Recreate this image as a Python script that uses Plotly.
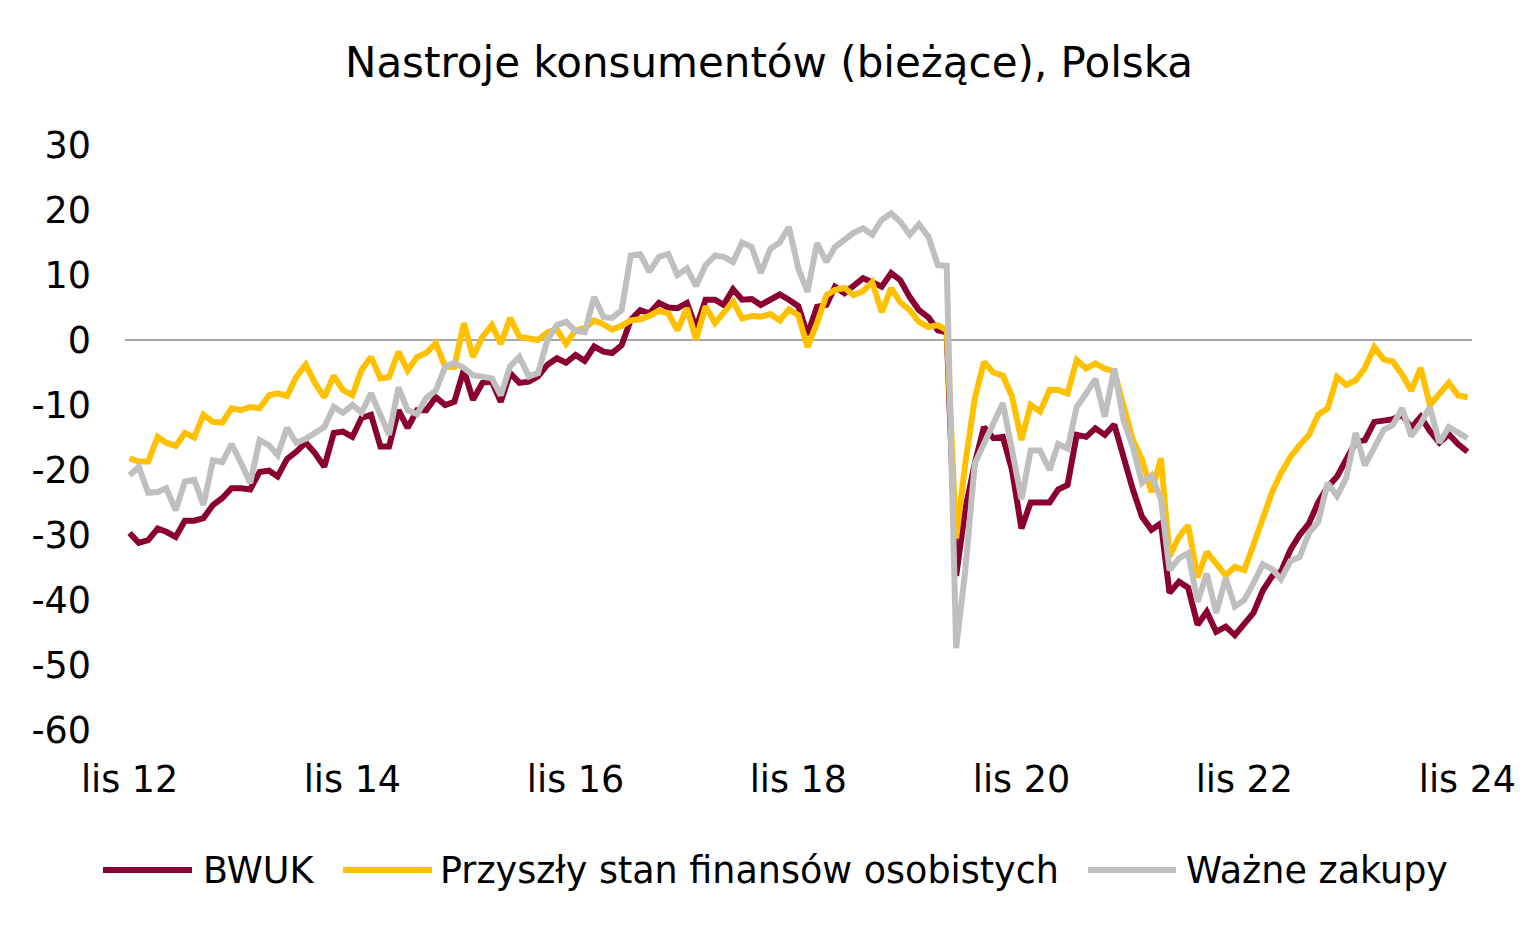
import pandas as pd
import plotly.graph_objects as go

start_month = "2012-11-01"

bwuk = [
    -29.7, -31.2, -30.8, -29.0, -29.5, -30.3, -27.8, -27.8, -27.4, -25.4, -24.3, -22.8,
    -22.8, -23.0, -20.3, -20.1, -21.0, -18.3, -17.2, -15.8, -17.4, -19.5, -14.3, -14.1,
    -14.9, -12.0, -11.5, -16.4, -16.4, -10.8, -13.5, -10.8, -10.8, -8.8, -10.0, -9.5,
    -4.6, -9.2, -6.6, -6.4, -9.5, -5.1, -6.6, -6.4, -5.6, -3.8, -2.8, -3.5,
    -2.3, -3.2, -1.0, -1.8, -2.0, -0.8, 3.1, 4.6, 4.1, 5.7, 5.0, 4.9,
    5.7, 1.8, 6.2, 6.2, 5.4, 7.8, 6.2, 6.3, 5.4, 6.3, 7.0, 6.2,
    5.2, 0.8, 5.1, 5.4, 8.2, 7.2, 8.2, 9.5, 8.9, 8.2, 10.3, 9.2,
    6.6, 4.6, 3.5, 1.5, 1.2, -36.3, -26.0, -19.0, -13.4, -15.1, -14.9, -20.0,
    -29.0, -25.0, -25.0, -25.0, -23.0, -22.3, -14.6, -14.9, -13.6, -14.6, -13.0, -18.0,
    -23.0, -27.2, -29.2, -28.2, -38.9, -37.2, -38.1, -43.8, -41.8, -44.9, -44.1, -45.4,
    -43.8, -42.0, -38.5, -36.3, -35.7, -32.3, -30.0, -28.2, -25.0, -22.6, -21.0, -18.5,
    -15.7, -15.4, -12.6, -12.4, -12.2, -11.5, -13.5, -11.8, -14.0, -15.8, -14.5, -16.0,
    -17.2,
]

przyszly_stan = [
    -18.2, -18.7, -18.7, -14.9, -15.8, -16.3, -14.3, -15.0, -11.5, -12.6, -12.7, -10.5,
    -10.8, -10.3, -10.5, -8.5, -8.2, -8.6, -5.7, -3.8, -6.6, -8.8, -5.5, -7.7,
    -8.5, -4.6, -2.6, -5.9, -5.7, -1.8, -4.7, -2.6, -2.0, -0.5, -4.1, -4.1,
    2.6, -2.6, 0.5, 2.3, -0.6, 3.4, 0.5, 0.2, 0.0, 1.2, 1.6, -0.6,
    1.5, 1.8, 3.0, 2.4, 1.6, 2.2, 3.0, 3.2, 3.7, 4.5, 4.1, 1.5,
    4.9, 0.1, 5.2, 2.6, 4.3, 5.9, 3.3, 3.7, 3.6, 4.0, 3.0, 4.7,
    3.8, -1.1, 2.6, 6.9, 7.7, 8.0, 6.9, 7.5, 8.9, 4.3, 8.0, 5.8,
    4.6, 2.8, 2.0, 2.3, 1.5, -30.5, -19.0, -9.0, -3.4, -5.0, -5.5, -8.7,
    -15.4, -10.0, -11.0, -7.7, -7.7, -8.2, -3.1, -4.4, -3.6, -4.4, -4.8, -9.8,
    -15.4, -18.4, -23.4, -18.2, -33.3, -30.3, -28.5, -36.5, -32.6, -34.4, -36.2, -34.9,
    -35.4, -31.5, -27.5, -23.3, -20.5, -18.0, -16.2, -14.6, -11.5, -10.5, -5.7, -6.9,
    -6.2, -4.3, -1.1, -3.0, -3.3, -5.3, -7.8, -4.3, -10.0, -8.2, -6.6, -8.5,
    -8.8,
]

wazne_zakupy = [
    -20.8, -19.5, -23.5, -23.4, -22.8, -26.2, -21.8, -21.5, -25.4, -18.5, -18.8, -16.0,
    -18.9, -22.0, -15.4, -16.2, -17.7, -13.5, -15.8, -15.2, -14.3, -13.4, -10.3, -11.2,
    -10.0, -11.2, -8.2, -11.8, -14.6, -7.3, -10.8, -11.4, -8.9, -7.8, -4.1, -3.5,
    -4.3, -5.4, -5.6, -5.9, -8.5, -4.0, -2.6, -5.6, -5.1, 0.0, 2.3, 2.8,
    1.4, 1.2, 6.6, 3.5, 3.4, 4.6, 13.0, 13.2, 10.5, 12.8, 13.2, 10.0,
    11.0, 8.3, 11.5, 13.0, 12.8, 12.0, 15.0, 14.3, 10.3, 14.0, 15.0, 17.4,
    11.0, 7.4, 14.9, 12.0, 14.3, 15.4, 16.5, 17.2, 16.2, 18.5, 19.5, 18.2,
    16.2, 17.8, 15.9, 11.5, 11.4, -47.4, -35.4, -19.0, -16.0, -13.0, -9.7, -16.9,
    -24.5, -17.0, -17.0, -20.0, -16.0, -16.7, -10.3, -8.2, -6.0, -11.8, -4.4, -12.3,
    -16.5, -22.0, -20.8, -24.5, -35.4, -33.6, -32.8, -40.3, -35.9, -42.0, -36.6, -41.0,
    -40.0, -37.4, -34.5, -35.3, -36.8, -34.0, -33.4, -29.7, -28.0, -22.0, -24.0, -21.2,
    -14.3, -19.3, -16.4, -13.8, -13.1, -10.5, -14.8, -12.8, -10.3, -15.8, -13.4, -14.2,
    -15.1,
]

series_names = ["BWUK", "Przyszły stan finansów osobistych", "Ważne zakupy"]
series_colors = ["#8B0033", "#FFC000", "#BFBFBF"]

tick_labels = ["lis 12", "lis 14", "lis 16", "lis 18", "lis 20", "lis 22", "lis 24"]
y_ticks = [30, 20, 10, 0, -10, -20, -30, -40, -50, -60]

assert len(bwuk) == len(przyszly_stan) == len(wazne_zakupy) == 145

dates = pd.date_range(start_month, periods=len(bwuk), freq="MS")
tick_dates = dates[::24]

FONT = "Verdana, DejaVu Sans, sans-serif"

fig = go.Figure()
for name, vals, col in zip(series_names, [bwuk, przyszly_stan, wazne_zakupy], series_colors):
    fig.add_trace(go.Scatter(x=dates, y=vals, mode="lines", name=name,
                             line=dict(color=col, width=6), showlegend=False))

# page offset of the plot div (body margin)
OFF = 8
W, H = 1539, 933
# plot area in page pixels, converted to figure pixels
L, R, T, B = 125 - OFF, 1472 - OFF, 145 - OFF, 730 - OFF

x_lo = dates[0] - pd.Timedelta(days=15)
x_hi = dates[-1] + pd.Timedelta(days=15)

fig.update_layout(
    width=W, height=H,
    margin=dict(l=L, r=W - R, t=T, b=H - B, pad=0),
    paper_bgcolor="white", plot_bgcolor="white",
    font=dict(family=FONT, size=36, color="black"),
    title=dict(text="Nastroje konsumentów (bieżące), Polska",
               x=(769 - OFF) / W, xref="container", xanchor="center",
               y=1 - (62 - OFF) / H, yref="container", yanchor="middle",
               font=dict(family=FONT, size=42, color="black")),
    xaxis=dict(range=[x_lo, x_hi], tickvals=list(tick_dates), ticktext=tick_labels,
               showgrid=False, zeroline=False, showline=False,
               ticks="", ticklabelstandoff=24, tickfont=dict(size=36.5)),
    yaxis=dict(range=[-60, 30], tickvals=y_ticks, ticktext=[str(v) for v in y_ticks],
               showgrid=False, zeroline=True, zerolinecolor="#A6A6A6", zerolinewidth=1.5,
               showline=False, ticks="", ticklabelstandoff=33, tickfont=dict(size=36.5)),
)

# manual legend (long line samples like the original)
def px_x(p):
    return (p - OFF - L) / (R - L)

def px_y(p):
    return (B - (p - OFF)) / (B - T)

legend_y = 870
legend_items = [(103, 192, 201), (343, 432, 438), (1088, 1176, 1184)]
for (x0, x1, tx), name, col in zip(legend_items, series_names, series_colors):
    fig.add_shape(type="line", xref="paper", yref="paper",
                  x0=px_x(x0), x1=px_x(x1), y0=px_y(legend_y), y1=px_y(legend_y),
                  line=dict(color=col, width=6))
    fig.add_annotation(xref="paper", yref="paper", x=px_x(tx), y=px_y(legend_y),
                       text=name, showarrow=False, xanchor="left", yanchor="middle",
                       font=dict(family=FONT, size=36.5, color="black"))

fig.write_html("out.html")
